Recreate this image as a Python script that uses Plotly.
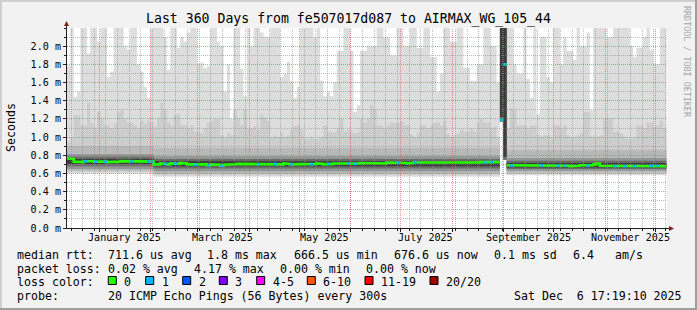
import plotly.graph_objects as go
import pandas as pd

# ---------------- data ----------------
bin_start = "2024-12-12 14:00"     # first 2-day bin
bin_days = 2
x_range = ["2024-12-12 14:00", "2025-12-07 22:00"]

# highest ping per bin (ms); values at the top are clipped by the 2.2 ms axis
rtt_max = [
    1.78, 2.2, 1.44, 1.5, 2.2, 2.2, 1.92, 2.2, 2.2, 2.05,
    2.2, 2.2, 1.66, 1.72, 2.2, 2.2, 2.2, 2.0, 1.96, 2.2,
    2.2, 1.8, 1.72, 1.55, 1.43, 2.2, 2.2, 2.2, 2.2, 2.1,
    1.74, 2.2, 2.2, 1.98, 2.1, 2.05, 2.15, 2.2, 2.2, 1.8,
    1.82, 1.76, 1.78, 2.2, 2.2, 2.05, 2.0, 1.5, 1.8, 1.2,
    2.2, 2.2, 1.75, 1.45, 2.2, 2.0, 2.2, 2.2, 2.15, 2.1,
    2.1, 2.2, 2.2, 2.2, 1.66, 1.7, 1.83, 1.62, 1.43, 1.55,
    2.2, 2.2, 2.2, 2.2, 2.1, 2.2, 1.62, 1.45, 1.5, 1.45,
    1.6, 1.95, 1.95, 2.2, 2.2, 1.95, 1.28, 1.35, 1.95, 1.95,
    2.0, 2.0, 2.0, 2.2, 2.2, 2.1, 2.1, 1.9, 1.9, 2.2,
    2.2, 2.0, 2.0, 2.2, 2.2, 1.98, 1.98, 2.2, 2.2, 1.88,
    1.88, 1.5, 1.7, 2.2, 2.2, 2.05, 2.05, 2.2, 2.2, 1.76,
    1.76, 1.62, 1.62, 1.8, 1.8, 2.2, 2.2, 2.0, 2.0, 1.6,
    2.3, 2.3, 2.2, 2.2, 1.8, 1.7, 1.7, 2.2, 1.64, 1.43,
    2.2, 1.25, 2.1, 2.1, 1.66, 1.6, 2.2, 2.2, 1.8, 2.1,
    1.95, 1.95, 1.85, 2.2, 2.0, 2.0, 2.15, 1.3, 2.2, 2.2,
    2.2, 2.2, 2.1, 2.1, 2.2, 2.2, 2.2, 2.2, 2.2, 2.0,
    1.88, 1.98, 1.98, 2.1, 2.2, 1.96, 1.8, 1.8, 2.2, 2.2,
]

# upper edge of the medium-light smoke (ms)
rtt_p80 = [
    0.95, 1.0, 1.24, 1.24, 1.13, 1.13, 1.38, 1.15, 1.1, 1.28,
    1.2, 1.13, 1.13, 1.1, 1.15, 1.28, 1.3, 1.2, 1.16, 1.16,
    1.13, 1.1, 1.18, 1.15, 1.18, 1.16, 1.12, 1.2, 1.38, 1.3,
    1.16, 1.13, 1.24, 1.26, 1.13, 1.13, 1.1, 1.13, 1.06, 1.06,
    1.04, 1.1, 1.16, 1.18, 1.2, 1.2, 1.02, 1.0, 1.05, 1.02,
    1.3, 1.2, 1.13, 1.3, 1.1, 1.1, 1.12, 1.08, 1.25, 1.22,
    1.18, 1.0, 1.02, 1.0, 1.05, 1.0, 1.02, 1.08, 1.12, 1.13,
    1.08, 0.98, 0.98, 1.0, 0.98, 0.98, 1.0, 1.13, 1.06, 1.05,
    1.06, 1.1, 1.2, 1.06, 1.08, 1.06, 1.04, 1.06, 1.2, 1.16,
    1.2, 1.35, 1.3, 1.13, 1.13, 1.1, 1.13, 1.16, 1.16, 1.16,
    1.18, 1.13, 1.13, 1.03, 1.0, 1.05, 1.13, 1.13, 1.1, 1.13,
    1.16, 1.16, 1.13, 1.18, 1.03, 1.0, 1.02, 1.04, 1.08, 1.06,
    1.06, 1.1, 1.06, 1.16, 1.2, 1.16, 1.16, 1.1, 1.12, 1.0,
    2.3, 2.3, 1.1, 1.32, 1.3, 1.13, 1.13, 1.13, 1.1, 1.13,
    1.13, 1.02, 1.0, 1.02, 1.02, 1.0, 1.13, 1.13, 1.1, 1.13,
    1.02, 1.0, 1.0, 1.02, 1.05, 1.28, 1.28, 1.0, 1.02, 1.0,
    1.02, 1.2, 1.2, 1.2, 1.06, 1.06, 1.04, 1.0, 0.98, 0.98,
    1.0, 1.13, 1.13, 1.1, 1.16, 1.16, 1.1, 1.13, 1.18, 1.1,
]

# median rtt per bin (ms)
median_ms = [
    0.765, 0.76, 0.73, 0.725, 0.725, 0.735, 0.74, 0.735, 0.73, 0.735,
    0.73, 0.73, 0.725, 0.73, 0.73, 0.73, 0.735, 0.73, 0.73, 0.73,
    0.73, 0.73, 0.735, 0.73, 0.73, 0.73, 0.70, 0.70, 0.71, 0.705,
    0.70, 0.71, 0.71, 0.705, 0.715, 0.71, 0.70, 0.70, 0.695, 0.70,
    0.695, 0.70, 0.69, 0.70, 0.70, 0.695, 0.685, 0.695, 0.70, 0.70,
    0.70, 0.705, 0.70, 0.70, 0.70, 0.705, 0.70, 0.70, 0.705, 0.70,
    0.70, 0.70, 0.705, 0.70, 0.70, 0.71, 0.705, 0.70, 0.70, 0.705,
    0.705, 0.70, 0.705, 0.70, 0.705, 0.71, 0.705, 0.70, 0.705, 0.705,
    0.71, 0.705, 0.71, 0.705, 0.71, 0.71, 0.705, 0.71, 0.715, 0.71,
    0.71, 0.715, 0.71, 0.715, 0.715, 0.71, 0.72, 0.715, 0.715, 0.72,
    0.715, 0.715, 0.71, 0.715, 0.72, 0.715, 0.715, 0.72, 0.72, 0.715,
    0.715, 0.72, 0.715, 0.715, 0.72, 0.715, 0.72, 0.715, 0.72, 0.72,
    0.715, 0.72, 0.72, 0.72, 0.725, 0.72, 0.725, 0.725, 0.72, 0.725,
    1.19, 1.80, 0.69, 0.685, 0.685, 0.69, 0.69, 0.685, 0.69, 0.685,
    0.69, 0.685, 0.69, 0.69, 0.685, 0.685, 0.69, 0.685, 0.69, 0.685,
    0.685, 0.68, 0.685, 0.685, 0.69, 0.685, 0.685, 0.69, 0.70, 0.71,
    0.685, 0.68, 0.68, 0.685, 0.68, 0.68, 0.685, 0.68, 0.68, 0.685,
    0.68, 0.685, 0.68, 0.68, 0.685, 0.685, 0.68, 0.685, 0.68, 0.68,
]

# lost pings per bin (out of 20)
loss_pings = [
    0, 0, 0, 0, 0, 1, 0, 0, 1, 0, 0, 1, 0, 0, 0, 0, 0, 0, 0, 1,
    0, 0, 0, 0, 1, 1, 0, 0, 0, 1, 0, 0, 1, 0, 0, 0, 0, 0, 1, 0,
    0, 0, 1, 0, 0, 0, 1, 0, 0, 0, 0, 0, 0, 0, 0, 0, 0, 1, 0, 0,
    0, 0, 1, 0, 0, 0, 0, 1, 0, 0, 0, 0, 0, 1, 0, 0, 0, 0, 1, 0,
    0, 0, 0, 0, 1, 0, 1, 0, 0, 0, 0, 0, 0, 0, 0, 0, 0, 0, 0, 1,
    0, 0, 0, 0, 1, 0, 0, 0, 0, 0, 0, 0, 0, 0, 0, 0, 0, 0, 0, 0,
    0, 0, 0, 0, 0, 1, 0, 1, 0, 0, 1, 1, 0, 1, 0, 0, 0, 0, 0, 0,
    0, 0, 1, 0, 0, 0, 0, 1, 0, 1, 0, 0, 0, 0, 0, 0, 1, 0, 0, 0,
    0, 0, 0, 0, 1, 0, 0, 1, 0, 0, 1, 0, 0, 0, 0, 1, 0, 1, 0, 0,
]

# slowly varying smoke edges, piecewise by period (ms)
seg_start = ["2024-12-01", "2025-02-02", "2025-08-29", "2025-08-31", "2025-09-02"]
edge_min  = [0.600, 0.565, 1.17, 0.75, 0.580]
edge_l2lo = [0.615, 0.580, 1.17, 0.75, 0.595]
edge_l3lo = [0.630, 0.600, 1.17, 0.75, 0.610]
edge_d1lo = [0.650, 0.625, 1.17, 0.75, 0.630]
edge_d2lo = [0.680, 0.655, 1.17, 0.75, 0.650]
edge_d3lo = [0.705, 0.680, 1.22, 0.78, 0.665]
edge_d3hi = [0.760, 0.735, 2.30, 2.30, 0.715]
edge_d2hi = [0.785, 0.760, 2.30, 2.30, 0.740]
edge_d1hi = [0.810, 0.790, 2.30, 2.30, 0.770]
edge_p65  = [0.900, 0.880, 2.30, 2.30, 0.860]

month_label_text = ["January 2025", "March 2025", "May 2025", "July 2025",
                    "September 2025", "November 2025"]
month_label_date = ["2025-01-16", "2025-03-16", "2025-05-16", "2025-07-16",
                    "2025-09-16", "2025-11-16"]

y_ticks = [0.0, 0.2, 0.4, 0.6, 0.8, 1.0, 1.2, 1.4, 1.6, 1.8, 2.0]
y_max = 2.2

title_text = "Last 360 Days from fe507017d087 to AIRMAX_WG_105_44"
loss_labels = ["0", "1", "2", "3", "4-5", "6-10", "11-19", "20/20"]
loss_colors = ["#26ff00", "#00b8ff", "#0059ff", "#7e00ff", "#ff00ff",
               "#ff5500", "#ff0000", "#a10000"]

# ---------------- figure ----------------
FONT = "DejaVu Sans Mono"
n = len(median_ms)
t0 = pd.Timestamp(bin_start)
edges = [t0 + pd.Timedelta(days=bin_days * i) for i in range(n + 1)]
xr0, xr1 = pd.Timestamp(x_range[0]), pd.Timestamp(x_range[1])


def expand(values):
    starts = [pd.Timestamp(s) for s in seg_start]
    out = []
    for i in range(n):
        k = 0
        for j, s in enumerate(starts):
            if edges[i] >= s:
                k = j
        out.append(values[k])
    return out


def band(lo, hi, color):
    xs, ys = [], []
    for i in range(n):
        xs += [edges[i], edges[i + 1]]
        ys += [hi[i], hi[i]]
    for i in reversed(range(n)):
        xs += [edges[i + 1], edges[i]]
        ys += [lo[i], lo[i]]
    return go.Scatter(x=xs, y=ys, fill="toself", fillcolor=color, mode="lines",
                      line=dict(width=0), hoverinfo="skip", showlegend=False)


fig = go.Figure()
fig.add_trace(band(expand(edge_min), rtt_max, "#DDDDDD"))
fig.add_trace(band(expand(edge_l2lo), rtt_p80, "#CDCDCD"))
fig.add_trace(band(expand(edge_l3lo), expand(edge_p65), "#B9B9B9"))
fig.add_trace(band(expand(edge_d1lo), expand(edge_d1hi), "#959595"))
fig.add_trace(band(expand(edge_d2lo), expand(edge_d2hi), "#6A6A6A"))
fig.add_trace(band(expand(edge_d3lo), expand(edge_d3hi), "#3C3C3C"))

# median line (green steps, broken at large jumps), loss-coloured overlays
gx, gy = [], []
for i in range(n):
    if i > 0 and abs(median_ms[i] - median_ms[i - 1]) > 0.1:
        gx.append(None)
        gy.append(None)
    gx += [edges[i], edges[i + 1]]
    gy += [median_ms[i], median_ms[i]]
fig.add_trace(go.Scatter(x=gx, y=gy, mode="lines",
                         line=dict(color=loss_colors[0], width=2.6),
                         hoverinfo="skip", showlegend=False))
bx, by = [], []
for i in range(n):
    if loss_pings[i] == 1:
        bx += [edges[i], edges[i + 1], None]
        by += [median_ms[i], median_ms[i], None]
fig.add_trace(go.Scatter(x=bx, y=by, mode="lines",
                         line=dict(color=loss_colors[1], width=2.6),
                         hoverinfo="skip", showlegend=False))

# ---------------- geometry helpers (pixels -> paper) ----------------
L, R, T, B = 67, 30, 28, 82
W, H = 697, 310
PW, PH = W - L - R, H - T - B


def px(x):
    return (x - L) / PW


def py(y):
    return (T + PH - y) / PH


def snap_x(d):
    p = L + (pd.Timestamp(d) - xr0) / (xr1 - xr0) * PW
    return px(int(p) + 0.5)


def snap_y(v):
    p = T + PH - v / y_max * PH
    return py(int(p) + 0.5)


shapes = []
GRID = "rgba(143,143,143,0.6)"
MGRID = "rgba(222,79,79,0.6)"
DOT = "1px,1px"

# vertical grid: weekly minor, monthly major
wk = pd.Timestamp("2024-12-15")
while wk < xr1:
    xx = snap_x(wk)
    shapes.append(dict(type="line", xref="paper", yref="paper", x0=xx, x1=xx, y0=0, y1=1,
                       line=dict(color=GRID, width=1, dash=DOT), layer="above"))
    wk += pd.Timedelta(days=7)
for m in pd.date_range("2025-01-01", "2025-12-01", freq="MS"):
    xx = snap_x(m)
    shapes.append(dict(type="line", xref="paper", yref="paper", x0=xx, x1=xx, y0=0, y1=1,
                       line=dict(color=MGRID, width=1, dash=DOT), layer="above"))
# horizontal grid
for k in range(1, 22, 2):
    yy = snap_y(k / 10)
    shapes.append(dict(type="line", xref="paper", yref="paper", x0=0, x1=1, y0=yy, y1=yy,
                       line=dict(color=GRID, width=1, dash=DOT), layer="above"))
for v in y_ticks[1:]:
    yy = snap_y(v)
    shapes.append(dict(type="line", xref="paper", yref="paper", x0=0, x1=1, y0=yy, y1=yy,
                       line=dict(color=MGRID, width=1, dash=DOT), layer="above"))

AXIS = "#1F1F1F"
ARROW = "#802020"
# axes lines
shapes.append(dict(type="line", xref="paper", yref="paper", x0=px(66.5), x1=px(66.5),
                   y0=py(228.5), y1=py(24), line=dict(color=AXIS, width=1), layer="above"))
shapes.append(dict(type="line", xref="paper", yref="paper", x0=px(66), x1=px(671),
                   y0=py(228.5), y1=py(228.5), line=dict(color=AXIS, width=1), layer="above"))
# arrows
shapes.append(dict(type="path", xref="paper", yref="paper",
                   path=f"M {px(64)} {py(26)} L {px(69)} {py(26)} L {px(66.5)} {py(21)} Z",
                   fillcolor=ARROW, line=dict(width=0), layer="above"))
shapes.append(dict(type="path", xref="paper", yref="paper",
                   path=f"M {px(669)} {py(226)} L {px(669)} {py(231)} L {px(674)} {py(228.5)} Z",
                   fillcolor=ARROW, line=dict(width=0), layer="above"))
# frame (shade A top/left, shade B bottom/right)
shapes.append(dict(type="rect", xref="paper", yref="paper", x0=px(0), x1=px(697),
                   y0=py(2), y1=py(0), fillcolor="#CFCFCF", line=dict(width=0), layer="below"))
shapes.append(dict(type="rect", xref="paper", yref="paper", x0=px(0), x1=px(2),
                   y0=py(310), y1=py(0), fillcolor="#CFCFCF", line=dict(width=0), layer="below"))
shapes.append(dict(type="rect", xref="paper", yref="paper", x0=px(695), x1=px(697),
                   y0=py(310), y1=py(0), fillcolor="#9E9E9E", line=dict(width=0), layer="below"))
shapes.append(dict(type="rect", xref="paper", yref="paper", x0=px(0), x1=px(697),
                   y0=py(310), y1=py(308), fillcolor="#9E9E9E", line=dict(width=0), layer="below"))

annotations = []


def text(s, x, y, size=11.6, anchor="left", color="#000000", angle=0, xref="paper", xval=None):
    annotations.append(dict(
        text=s.replace(" ", "\u00a0"), xref=xref, yref="paper",
        x=xval if xval is not None else px(x), y=py(y),
        xanchor=anchor, yanchor="middle", showarrow=False, textangle=angle,
        font=dict(family=FONT, size=size, color=color), borderpad=0))


text(title_text, 348, 19, size=13.2, anchor="center")
text("Seconds", 11, 128, size=11.6, anchor="center", angle=-90)
text("RRDTOOL / TOBI OETIKER", 687, 62, size=8.4, anchor="center", angle=90, color="#A6A6A6")
for lab, d in zip(month_label_text, month_label_date):
    text(lab, 0, 237.5, size=10.1, anchor="center", xref="x", xval=d)

# legend block
text("median rtt:", 16, 255)
for s, x in [("711.6 us avg", 107.3), ("1.8 ms max", 206), ("666.5 us min", 293),
             ("676.6 us now", 393.3), ("0.1 ms sd", 493.3), ("6.4", 571.7), ("am/s", 614.3)]:
    text(s, x, 255)
text("packet loss:", 16, 268.5)
for s, x in [("0.02 % avg", 107.3), ("4.17 % max", 193.3), ("0.00 % min", 279),
             ("0.00 % now", 365)]:
    text(s, x, 268.5)
text("loss color:", 16, 282)
box_x = [108.3, 145.7, 182.7, 219.3, 256.7, 307.3, 365, 430]
for lab, col, bxp in zip(loss_labels, loss_colors, box_x):
    shapes.append(dict(type="rect", xref="paper", yref="paper",
                       x0=px(bxp), x1=px(bxp + 8), y0=py(284.5), y1=py(276.5),
                       fillcolor=col, line=dict(color="#000000", width=1), layer="above"))
    text(lab, bxp + 15, 282)
text("probe:", 16, 296)
text("20 ICMP Echo Pings (56 Bytes) every 300s", 107.3, 296)
text("Sat Dec  6 17:19:10 2025", 513.3, 296)

fig.update_layout(
    width=W, height=H,
    margin=dict(l=L, r=R, t=T, b=B, pad=0),
    paper_bgcolor="#F2F2F2", plot_bgcolor="#FFFFFF",
    showlegend=False,
    shapes=shapes, annotations=annotations,
    xaxis=dict(type="date", range=x_range, showgrid=False, zeroline=False, showline=False,
               showticklabels=False, ticks="outside", ticklen=3, tickcolor=AXIS,
               tickmode="linear", tick0="2025-01-01", dtick="M1",
               minor=dict(ticks="outside", ticklen=2, tickcolor=AXIS, dtick=7 * 86400000,
                          tick0="2024-12-15", showgrid=False)),
    yaxis=dict(range=[0, y_max], showgrid=False, zeroline=False, showline=False,
               tickmode="array", tickvals=y_ticks,
               ticktext=[f"{v:.1f} m" for v in y_ticks],
               ticks="outside", ticklen=3, tickcolor=AXIS,
               tickfont=dict(family=FONT, size=10.1, color="#000000"),
               minor=dict(ticks="outside", ticklen=2, tickcolor=AXIS, dtick=0.1, tick0=0,
                          showgrid=False)),
    font=dict(family=FONT),
)

fig.write_html("out.html")
